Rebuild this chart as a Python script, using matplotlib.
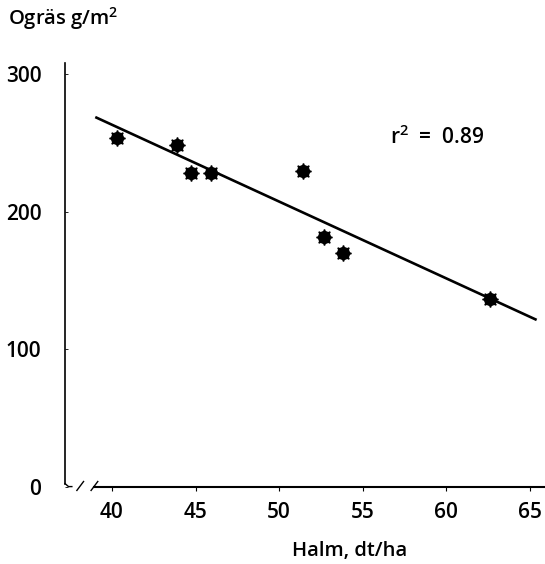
import numpy as np
import matplotlib.pyplot as plt

plt.rcParams["font.family"] = ["Open Sans", "DejaVu Sans"]
plt.rcParams["mathtext.fontset"] = "custom"
plt.rcParams["mathtext.rm"] = "Open Sans"
plt.rcParams["mathtext.it"] = "Open Sans:italic"
plt.rcParams["mathtext.bf"] = "Open Sans:bold"

# ---------- Data ----------
halm = [40.3, 43.9, 44.7, 45.9, 51.4, 52.7, 53.8, 62.6]      # dt/ha
ogras = [254, 249, 228, 228, 230, 182, 170, 137]            # g/m2
fit_x = [39.0, 65.4]
fit_y = [269.0, 121.5]
x_ticks = [40, 45, 50, 55, 60, 65]
y_ticks = [0, 100, 200, 300]

fig = plt.figure(figsize=(5.45, 5.64), dpi=100)
ax = fig.add_axes([65 / 545, 77 / 564, 475 / 545, 427 / 564])

ax.plot(fit_x, fit_y, "k-", lw=1.9, solid_capstyle="butt")
ax.plot(halm, ogras, ls="none", marker="o", ms=8.5, color="k")
ax.plot(halm, ogras, ls="none", marker=(8, 1, 0), ms=11.5, color="k")

ax.set_xlim(37.19, 65.6)
ax.set_ylim(0, 310.5)

for side in ("top", "right"):
    ax.spines[side].set_visible(False)
ax.spines["left"].set_bounds(2.5, 308)
ax.spines["bottom"].set_bounds(38.9, 66.0)
ax.spines["bottom"].set_clip_on(False)
ax.spines["left"].set_linewidth(1.2)
ax.spines["bottom"].set_linewidth(1.5)

# axis break marks
ax.plot([37.19, 37.4, 37.6], [2.5, 0.3, 0.3], "k-", lw=1.0, clip_on=False)
ax.plot([37.9, 38.3], [-2.5, 4], "k-", lw=1.0, clip_on=False)
ax.plot([38.75, 39.15], [-2.5, 4], "k-", lw=1.0, clip_on=False)

ax.set_xticks(x_ticks)
ax.set_yticks(y_ticks)
ax.tick_params(axis="x", direction="out", length=3, width=0.8, pad=8, labelsize=15)
ax.tick_params(axis="y", direction="in", length=2, width=0.6, pad=17, labelsize=15)
for lbl in ax.get_xticklabels() + ax.get_yticklabels():
    lbl.set_fontweight("semibold")

fig.text(8 / 545, 1 - 19 / 564, r"Ogräs g/m$^{\mathregular{2}}$", fontsize=14.5,
         fontweight="semibold", ha="left", va="center")
fig.text(350 / 545, 1 - 551 / 564, "Halm, dt/ha", fontsize=14.5,
         fontweight="semibold", ha="center", va="center")
ax.text(56.6, 254, r"r$^{\mathregular{2}}$  =  0.89", fontsize=15,
        fontweight="semibold", ha="left", va="center")

fig.savefig("out.png", dpi=100)
